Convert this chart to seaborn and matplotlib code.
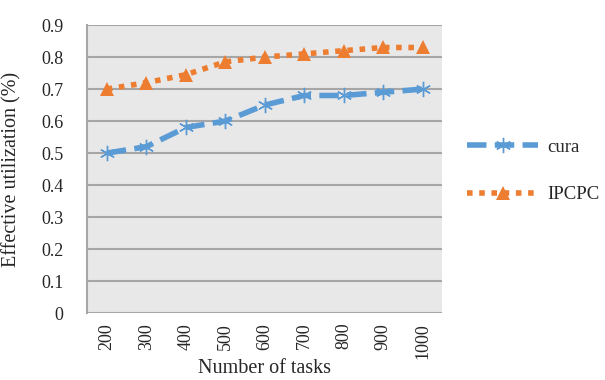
import pandas as pd
import matplotlib
matplotlib.use("Agg")
import matplotlib.pyplot as plt
import seaborn as sns

tasks = ["200", "300", "400", "500", "600", "700", "800", "900", "1000"]
cura = [0.50, 0.52, 0.58, 0.60, 0.65, 0.68, 0.68, 0.69, 0.70]
ipcpc = [0.70, 0.72, 0.745, 0.785, 0.80, 0.81, 0.82, 0.83, 0.83]
yticks = [0, 0.1, 0.2, 0.3, 0.4, 0.5, 0.6, 0.7, 0.8, 0.9]

sns.set_style("white")
plt.rcParams["font.family"] = ["Liberation Serif", "DejaVu Serif"]

df = pd.DataFrame({"tasks": tasks, "cura": cura, "IPCPC": ipcpc})

fig = plt.figure(figsize=(6.05, 3.8), dpi=100)
ax = fig.add_axes([0.144, 0.176, 0.587, 0.758])
ax.set_facecolor("#e8e8e8")

sns.lineplot(data=df, x="tasks", y="cura", sort=False, ax=ax, color="#5b9bd5",
             lw=4, linestyle=(0, (3.5, 1.5)), marker=(6, 2, 0), markersize=11,
             markeredgewidth=1.0, markeredgecolor="#5b9bd5", label="cura")
sns.lineplot(data=df, x="tasks", y="IPCPC", sort=False, ax=ax, color="#ed7d31",
             lw=4, linestyle=(0, (1, 1.2)), marker="^", markersize=10,
             markeredgewidth=0, label="IPCPC")

ax.set_xlim(-0.5, len(tasks) - 0.5)
ax.set_ylim(0, 0.9)
ax.set_yticks(yticks)
ax.set_yticklabels([f"{t:g}" for t in yticks])
ax.yaxis.grid(True, color="#a6a6a6", lw=1.5)
ax.set_axisbelow(True)
for s in ["top", "right", "bottom"]:
    ax.spines[s].set_visible(False)
ax.spines["left"].set_color("#a6a6a6")
ax.spines["left"].set_linewidth(1.5)
ax.tick_params(axis="y", length=7, color="#a6a6a6", width=1.5, labelsize=13, pad=10)
ax.tick_params(axis="x", length=0, labelsize=13, pad=7, rotation=90)

ax.set_xlabel("Number of tasks", fontsize=14.5, labelpad=0)
ax.set_ylabel("Effective utilization (%)", fontsize=14.5, labelpad=14)

ax.legend(loc="center left", bbox_to_anchor=(0.772, 0.55), bbox_transform=fig.transFigure,
          frameon=False, fontsize=13.5, handlelength=3.8, handletextpad=0.5,
          labelspacing=1.6, borderaxespad=0, borderpad=0)

fig.savefig("out.png", dpi=100)
